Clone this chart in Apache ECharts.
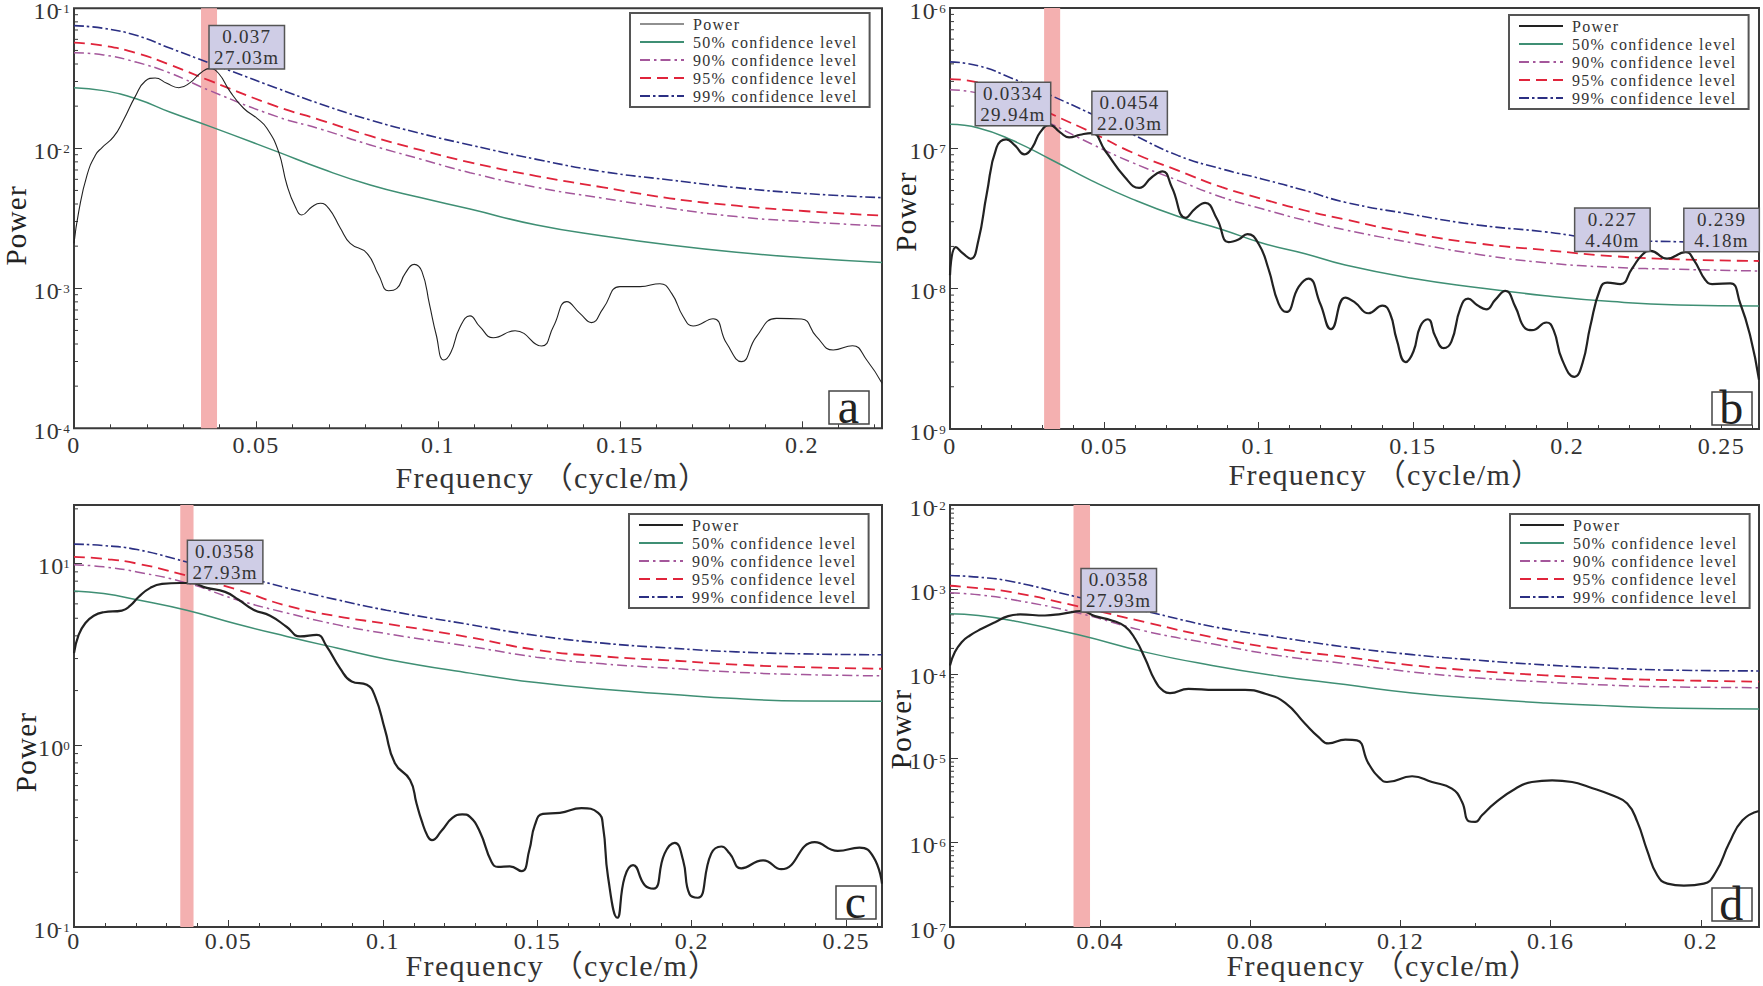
<!DOCTYPE html>
<html>
<head>
<meta charset="utf-8">
<title>Power spectra</title>
<script src="https://cdn.jsdelivr.net/npm/echarts@6/dist/echarts.min.js"></script>
<style>
  html, body { margin: 0; padding: 0; background: #fff; }
  #chart { width: 1763px; height: 986px; }
  /* the original lettering is set wide */
  #chart svg text { letter-spacing: 1.3px; }
</style>
</head>
<body>
<div id="chart"></div>
<script>
// all power values are log10(power)
// panel a
const freqA = [0, .0013, .0036, .0059, .0077, .0109, .0136, .0168, .0196, .0223, .0255, .0288, .032, .0347, .0373, .0397, .0429, .0466, .0503, .053, .0562, .0585, .0608, .0626, .0654, .0677, .07, .0732, .0759, .0805, .0837, .0864, .0887, .091, .0935, .0956, .0977, .0995, .1016, .1035, .106, .1088, .1115, .1152, .1212, .1285, .1317, .1354, .139, .1422, .1454, .15, .1555, .161, .1642, .1674, .1701, .1756, .1793, .1834, .1875, .193, .1999, .204, .2086, .2139, .2178, .222];
const logPowerA = [-2.679, -2.452, -2.19, -2.048, -1.995, -1.917, -1.798, -1.631, -1.519, -1.498, -1.536, -1.567, -1.529, -1.464, -1.429, -1.464, -1.595, -1.714, -1.786, -1.857, -2.024, -2.262, -2.417, -2.476, -2.417, -2.393, -2.429, -2.571, -2.679, -2.75, -2.905, -3.017, -3, -2.893, -2.829, -2.881, -3.119, -3.33, -3.512, -3.46, -3.28, -3.197, -3.274, -3.353, -3.303, -3.412, -3.274, -3.095, -3.179, -3.245, -3.143, -2.988, -2.988, -2.967, -3.036, -3.203, -3.269, -3.217, -3.393, -3.524, -3.345, -3.215, -3.219, -3.345, -3.441, -3.41, -3.512, -3.679];
const confFreqA = [0, .0081, .0173, .0265, .0375, .0558, .0677, .0814, .0951, .1088, .1271, .1454, .1637, .182, .2004, .222];
const log50A = [-1.567, -1.588, -1.648, -1.743, -1.845, -2.024, -2.143, -2.262, -2.352, -2.434, -2.548, -2.626, -2.691, -2.743, -2.781, -2.815];
const log90A = [-1.317, -1.333, -1.386, -1.464, -1.59, -1.774, -1.862, -1.976, -2.076, -2.174, -2.279, -2.357, -2.429, -2.488, -2.524, -2.555];
const log95A = [-1.245, -1.267, -1.321, -1.405, -1.519, -1.702, -1.798, -1.912, -2.012, -2.1, -2.198, -2.279, -2.357, -2.41, -2.448, -2.481];
const log99A = [-1.124, -1.143, -1.195, -1.286, -1.393, -1.571, -1.683, -1.798, -1.893, -1.976, -2.079, -2.167, -2.226, -2.281, -2.322, -2.353];

// panel b
const freqB = [0, .0019, .0043, .0067, .0092, .0119, .0151, .0182, .0211, .0241, .0267, .0292, .0324, .0357, .0386, .0422, .0459, .0503, .0567, .0613, .0654, .0689, .0719, .0764, .0794, .0827, .0865, .0903, .0935, .0964, .1, .1032, .1065, .109, .113, .1162, .12, .1235, .1281, .1313, .1356, .1402, .1426, .1448, .1477, .1502, .1524, .1549, .1573, .16, .1625, .1654, .1679, .1708, .1738, .1767, .18, .1832, .1864, .1886, .1933, .1956, .1984, .2024, .205, .2075, .2108, .213, .2173, .2211, .2243, .227, .2324, .2384, .2411, .2448, .247, .2529, .2561, .2594, .2622];
const logPowerB = [-7.905, -7.704, -7.751, -7.787, -7.656, -7.325, -6.993, -6.936, -6.981, -7.043, -6.993, -6.886, -6.834, -6.886, -6.922, -6.903, -6.891, -7.017, -7.206, -7.282, -7.206, -7.164, -7.277, -7.495, -7.431, -7.389, -7.502, -7.668, -7.649, -7.611, -7.68, -7.858, -8.107, -8.166, -7.988, -7.929, -8.107, -8.289, -8.064, -8.099, -8.175, -8.121, -8.175, -8.365, -8.523, -8.448, -8.27, -8.218, -8.341, -8.424, -8.377, -8.14, -8.071, -8.116, -8.147, -8.08, -8.016, -8.128, -8.282, -8.296, -8.241, -8.294, -8.507, -8.628, -8.531, -8.27, -7.997, -7.957, -7.967, -7.855, -7.76, -7.73, -7.786, -7.739, -7.796, -7.938, -7.967, -7.962, -8.104, -8.341, -8.649];
const confFreqB = [0, .0092, .02, .033, .0459, .0589, .074, .0881, .1011, .1151, .1281, .1497, .1713, .1929, .2146, .2362, .2622];
const log50B = [-6.829, -6.855, -6.941, -7.083, -7.23, -7.36, -7.486, -7.578, -7.675, -7.751, -7.832, -7.926, -7.993, -8.05, -8.092, -8.116, -8.123];
const log90B = [-6.583, -6.607, -6.685, -6.827, -6.969, -7.1, -7.23, -7.348, -7.431, -7.514, -7.581, -7.673, -7.756, -7.815, -7.848, -7.862, -7.874];
const log95B = [-6.507, -6.531, -6.614, -6.756, -6.886, -7.028, -7.159, -7.277, -7.36, -7.443, -7.507, -7.606, -7.678, -7.725, -7.768, -7.791, -7.803];
const log99B = [-6.384, -6.412, -6.5, -6.626, -6.756, -6.898, -7.052, -7.147, -7.218, -7.301, -7.384, -7.471, -7.547, -7.595, -7.654, -7.666, -7.685];

// panel c
const freqC = [0, .0015, .0037, .0064, .0096, .0155, .0182, .0209, .0247, .0285, .0344, .0376, .043, .0489, .0533, .0581, .0635, .0689, .0732, .0786, .0818, .0861, .0899, .0948, .0975, .1007, .1039, .1088, .1109, .1125, .1145, .1159, .119, .1225, .1257, .1282, .1314, .1352, .1373, .1411, .1449, .1474, .1492, .1518, .1573, .1643, .1697, .1713, .1729, .1759, .1783, .181, .1848, .1877, .1912, .1945, .1972, .1993, .202, .2063, .2096, .2123, .216, .2231, .229, .2398, .2473, .2543, .2588, .2616];
const logPowerC = [.507, .608, .673, .713, .732, .741, .768, .816, .866, .888, .893, .893, .866, .844, .801, .746, .713, .651, .599, .608, .544, .425, .351, .333, .268, .085, -.099, -.191, -.32, -.412, -.5, -.522, -.47, -.4, -.38, -.394, -.476, -.642, -.669, -.666, -.693, -.578, -.44, -.377, -.372, -.346, -.372, -.449, -.725, -.949, -.725, -.66, -.77, -.789, -.596, -.537, -.633, -.82, -.839, -.596, -.557, -.596, -.677, -.633, -.682, -.533, -.581, -.563, -.614, -.761];
const confFreqC = [0, .0096, .0204, .0365, .0527, .0689, .0851, .1012, .1282, .1497, .1713, .1929, .2144, .236, .2616];
const log50C = [.849, .835, .801, .743, .667, .599, .535, .474, .397, .345, .308, .281, .257, .244, .242];
const log90C = [.994, .982, .954, .893, .801, .728, .664, .614, .544, .485, .448, .424, .402, .389, .382];
const log95C = [1.037, 1.026, 1, .934, .857, .768, .71, .669, .594, .525, .489, .467, .444, .43, .421];
const log99C = [1.107, 1.099, 1.077, 1.009, .939, .866, .801, .743, .664, .604, .562, .535, .514, .503, .498];

// panel d
const freqD = [0, .0013, .0031, .0053, .0084, .012, .0155, .0187, .0253, .0298, .0351, .0386, .0431, .0466, .0493, .052, .0546, .0569, .0586, .0635, .0706, .0786, .084, .0893, .0946, .0982, .1008, .1053, .1084, .1115, .1146, .1164, .1231, .1284, .1337, .1364, .1382, .1399, .1417, .1453, .1506, .155, .1604, .1657, .1702, .1764, .1804, .1831, .1857, .1884, .1911, .1955, .2008, .204, .2075, .2111, .2155];
const logPowerD = [-3.901, -3.743, -3.625, -3.546, -3.467, -3.388, -3.317, -3.297, -3.309, -3.289, -3.258, -3.317, -3.368, -3.439, -3.585, -3.822, -4.079, -4.205, -4.229, -4.178, -4.19, -4.19, -4.237, -4.344, -4.592, -4.75, -4.825, -4.78, -4.788, -5.064, -5.242, -5.282, -5.214, -5.282, -5.361, -5.518, -5.748, -5.755, -5.676, -5.526, -5.361, -5.282, -5.262, -5.282, -5.341, -5.44, -5.538, -5.755, -6.091, -6.387, -6.486, -6.51, -6.486, -6.348, -6.012, -5.736, -5.625];
const confFreqD = [0, .0076, .0164, .0342, .052, .0698, .0875, .1053, .1231, .1408, .1586, .1763, .1941, .2155];
const log50D = [-3.289, -3.309, -3.368, -3.538, -3.743, -3.901, -4.028, -4.128, -4.227, -4.294, -4.345, -4.381, -4.409, -4.417];
const log90D = [-3.04, -3.064, -3.119, -3.281, -3.494, -3.645, -3.783, -3.879, -3.978, -4.049, -4.097, -4.136, -4.156, -4.164];
const log95D = [-2.957, -2.985, -3.032, -3.202, -3.388, -3.566, -3.704, -3.8, -3.899, -3.966, -4.018, -4.057, -4.077, -4.093];
const log99D = [-2.835, -2.855, -2.906, -3.092, -3.258, -3.439, -3.566, -3.682, -3.773, -3.84, -3.895, -3.935, -3.958, -3.966];

// picked peaks: frequency, log power, label
const peaksA = [[.0373, -1.429, '0.037\n27.03m', [37, -21]]];
const peaksB = [[.0324, -6.834, '0.0334\n29.94m', [-37, -21]], [.0459, -6.891, '0.0454\n22.03m', [38, -20]], [.227, -7.73, '0.227\n4.40m', [-38, -21]], [.2384, -7.739, '0.239\n4.18m', [36, -22]]];
const peaksC = [[.0376, .893, '0.0358\n27.93m', [35, -21]]];
const peaksD = [[.0351, -3.258, '0.0358\n27.93m', [37, -21]]];

// highlighted frequency bands
const bandA = [.0349, .0393];
const bandB = [.0305, .0357];
const bandC = [.0344, .0387];
const bandD = [.0329, .0373];

const legendNames = ['Power', '50% confidence level', '90% confidence level', '95% confidence level', '99% confidence level'];
const minorMultiples = [2, 3, 4, 5, 6, 7, 8, 9];
const SERIF = '"Liberation Serif", "Noto Sans CJK SC", serif';
const INK = '#3a3a3a';

const panels = [
  { letter: 'a', freq: freqA, power: logPowerA, confFreq: confFreqA, c50: log50A, c90: log90A, c95: log95A, c99: log99A, peaks: peaksA, band: bandA,
    grid: [74, 8.3, 808, 420], xMax: .222, xStep: .05, xMinor: 5, yMin: 1e-4, yMax: 1e-1, lineW: 1.1,
    legend: [630, 13], box: [829, 391], xShift: 149, xGap: 37, tickMargin: 6, yShift: 14, yGap: 46 },
  { letter: 'b', freq: freqB, power: logPowerB, confFreq: confFreqB, c50: log50B, c90: log90B, c95: log95B, c99: log99B, peaks: peaksB, band: bandB,
    grid: [950, 8, 809, 421], xMax: .2622, xStep: .05, xMinor: 5, yMin: 1e-9, yMax: 1e-6, lineW: 2.2,
    legend: [1509, 15], box: [1712, 392], xShift: 62, xGap: 33, tickMargin: 6, yShift: -14, yGap: 32 },
  { letter: 'c', freq: freqC, power: logPowerC, confFreq: confFreqC, c50: log50C, c90: log90C, c95: log95C, c99: log99C, peaks: peaksC, band: bandC,
    grid: [74, 505, 808, 422], xMax: .2616, xStep: .05, xMinor: 5, yMin: 1e-1, yMax: 21, lineW: 2.2,
    legend: [629, 514], box: [836, 886], xShift: 169, xGap: 26, tickMargin: 3, yShift: 72, yGap: 36 },
  { letter: 'd', freq: freqD, power: logPowerD, confFreq: confFreqD, c50: log50D, c90: log90D, c95: log95D, c99: log99D, peaks: peaksD, band: bandD,
    grid: [950, 505, 809, 422], xMax: .2155, xStep: .04, xMinor: 2, yMin: 1e-7, yMax: 1e-2, lineW: 2.2,
    legend: [1510, 514], box: [1712, 888], xShift: 58, xGap: 26, tickMargin: 3, yShift: 26, yGap: 37 }
];

function toPairs(freq, logs) {
  return freq.map((f, i) => [f, Math.pow(10, logs[i])]);
}

function minorTickData(p) {
  const res = [];
  const lo = Math.round(Math.log10(p.yMin));
  const hi = Math.ceil(Math.log10(p.yMax));
  for (let e = lo; e < hi; e++) {
    minorMultiples.forEach(m => {
      const v = m * Math.pow(10, e);
      if (v < p.yMax) res.push([0, v]);
    });
  }
  return res;
}

function confLine(name, i, p, logs, color, type, width) {
  return {
    name: name, type: 'line', xAxisIndex: i, yAxisIndex: i,
    data: toPairs(p.confFreq, logs),
    smooth: true, symbol: 'none', silent: true, z: 3,
    lineStyle: { color: color, type: type, width: width },
    itemStyle: { color: color }
  };
}

const grid = [], xAxis = [], yAxis = [], series = [], legend = [], graphic = [];

panels.forEach((p, i) => {
  grid.push({ left: p.grid[0], top: p.grid[1], width: p.grid[2], height: p.grid[3], outerBoundsMode: 'none', show: true, borderColor: INK, borderWidth: 2, backgroundColor: 'transparent' });

  xAxis.push({
    gridIndex: i, type: 'value', min: 0, max: p.xMax, interval: p.xStep,
    name: 'Frequency （cycle/m）', nameLocation: 'middle', nameGap: p.xGap, nameMoveOverlap: false,
    nameTextStyle: { fontFamily: SERIF, fontSize: 30, lineHeight: 24, color: '#333', padding: [0, 0, 0, p.xShift] },
    axisLine: { show: false }, splitLine: { show: false },
    axisTick: { inside: true, length: 7, lineStyle: { color: INK, width: 1 } },
    minorTick: { show: true, splitNumber: p.xMinor, length: 4, lineStyle: { color: INK, width: 1 } },
    axisLabel: { showMaxLabel: false, margin: p.tickMargin, fontFamily: SERIF, fontSize: 24, lineHeight: 22, color: '#333' }
  });

  yAxis.push({
    gridIndex: i, type: 'log', logBase: 10, min: p.yMin, max: p.yMax,
    name: 'Power', nameLocation: 'middle', nameGap: p.yGap, nameMoveOverlap: false,
    nameTextStyle: { fontFamily: SERIF, fontSize: 29, lineHeight: 24, color: '#222', padding: p.yShift >= 0 ? [0, p.yShift, 0, 0] : [0, 0, 0, -p.yShift] },
    axisLine: { show: false }, splitLine: { show: false },
    axisTick: { inside: true, length: 8, lineStyle: { color: INK, width: 1 } },
    axisLabel: {
      margin: 3, color: '#333', padding: [5, 0, 0, 0],
      formatter: function (v) {
        const e = Math.log10(v);
        if (Math.abs(e - Math.round(e)) > 1e-6) return '';
        return '{base|10}{sup|' + Math.round(e) + '}';
      },
      rich: {
        base: { fontFamily: SERIF, fontSize: 24, lineHeight: 18, color: '#333' },
        sup: { fontFamily: SERIF, fontSize: 13, lineHeight: 14, color: '#333', verticalAlign: 'top', padding: [0, 0, 6, 0] }
      }
    }
  });

  series.push({
    name: 'Power', type: 'line', xAxisIndex: i, yAxisIndex: i,
    data: toPairs(p.freq, p.power),
    smooth: true, symbol: 'none', silent: true, z: 4,
    lineStyle: { color: '#222', width: p.lineW },
    itemStyle: { color: '#222' },
    markArea: {
      silent: true, z: 1,
      itemStyle: { color: '#f4b0b0', opacity: 1 },
      data: [[{ xAxis: p.band[0] }, { xAxis: p.band[1] }]]
    },
    markPoint: {
      silent: true, symbol: 'circle', symbolSize: 1, z: 6,
      itemStyle: { color: 'transparent' },
      label: {
        show: true, position: 'inside', width: 74, height: 42, lineHeight: 21,
        align: 'center', verticalAlign: 'middle',
        fontFamily: SERIF, fontSize: 19, color: '#333',
        backgroundColor: '#cfcde6', borderColor: '#555', borderWidth: 1.5
      },
      data: p.peaks.map(k => ({
        coord: [k[0], Math.pow(10, k[1])],
        label: { formatter: k[2], offset: k[3] }
      }))
    }
  });
  series.push(confLine(legendNames[1], i, p, p.c50, '#3f8f74', 'solid', 1.5));
  series.push(confLine(legendNames[2], i, p, p.c90, '#a4579b', [10, 4, 2.5, 4], 1.5));
  series.push(confLine(legendNames[3], i, p, p.c95, '#e0243b', [11, 6], 1.8));
  series.push(confLine(legendNames[4], i, p, p.c99, '#2b2f83', [10, 3, 2.5, 3], 1.6));

  // log minor ticks on the y axis
  series.push({
    name: 'minor ' + p.letter, type: 'custom', xAxisIndex: i, yAxisIndex: i, silent: true, z: 2,
    data: minorTickData(p),
    renderItem: function (params, api) {
      const pt = api.coord([api.value(0), api.value(1)]);
      return { type: 'line', shape: { x1: pt[0], y1: pt[1], x2: pt[0] + 4, y2: pt[1] }, style: { stroke: INK, lineWidth: 1 } };
    }
  });

  legend.push({
    orient: 'vertical', left: p.legend[0], top: p.legend[1], selectedMode: false,
    padding: [3, 38, 3, 9], itemWidth: 44, itemHeight: 14, itemGap: 2,
    borderColor: '#555', borderWidth: 2, backgroundColor: '#fff', z: 5,
    itemStyle: { color: 'transparent', borderColor: 'transparent', borderWidth: 0, opacity: 0 },
    lineStyle: { opacity: 1 },
    textStyle: { fontFamily: SERIF, fontSize: 16, color: '#333', padding: [0, 0, 0, 4] },
    data: legendNames.map(n => n === 'Power' ? { name: n, lineStyle: { width: Math.min(p.lineW, 1.8) } } : n)
  });

  graphic.push({ type: 'rect', z: 7, shape: { x: p.box[0], y: p.box[1], width: 40, height: 33 }, style: { fill: '#fff', stroke: '#444', lineWidth: 1.5 } });
  graphic.push({ type: 'text', z: 8, style: { x: p.box[0] + 20, y: p.box[1] + 15, text: p.letter, align: 'center', verticalAlign: 'middle', fontFamily: SERIF, fontSize: 48, fill: '#222' } });
});

const chart = echarts.init(document.getElementById('chart'), null, { renderer: 'svg' });
chart.setOption({
  animation: false,
  backgroundColor: '#fff',
  grid: grid,
  xAxis: xAxis,
  yAxis: yAxis,
  legend: legend,
  series: series,
  graphic: graphic
});
</script>
</body>
</html>
